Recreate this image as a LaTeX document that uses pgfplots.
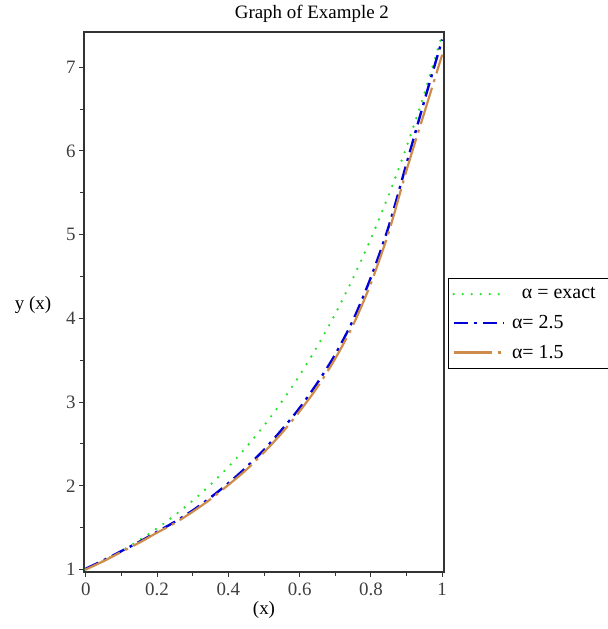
\documentclass[border=0pt]{standalone}
\usepackage{pgfplots}
\pgfplotsset{compat=1.18}
\usepackage{fontspec}
\setmainfont{Liberation Serif}

\definecolor{exgreen}{RGB}{40,225,40}
\definecolor{exblue}{RGB}{0,0,215}
\definecolor{exorange}{RGB}{205,140,75}

\begin{document}
\begin{tikzpicture}
\begin{axis}[
    scale only axis,
    width=360bp, height=540bp,
    xmin=-0.005, xmax=1.005,
    ymin=0.97, ymax=7.42,
    axis line style={line width=1.1pt, black!80},
    tick pos=left,
    tick align=outside,
    xtick={0,0.2,0.4,0.6,0.8,1},
    ytick={1,2,3,4,5,6,7},
    minor x tick num=1,
    minor y tick num=1,
    major tick length=5bp,
    minor tick length=4bp,
    tick style={line width=1pt, black!80},
    /pgf/number format/assume math mode=true,
    ticklabel style={font=\fontsize{19}{22}\selectfont, text=black!75},
    xticklabel style={yshift=-2bp},
    title={Graph of Example 2},
    title style={at={(rel axis cs:0.633,1)}, anchor=south, yshift=1bp, inner sep=2bp,
                 font=\fontsize{19}{22}\selectfont},
    xlabel={(x)},
    xlabel style={font=\fontsize{19}{22}\selectfont, yshift=1bp},
    ylabel={y (x)},
    ylabel style={font=\fontsize{19}{22}\selectfont, rotate=-90,
                  at={(rel axis cs:0,0.495)}, anchor=center, xshift=-51bp},
    legend style={at={(rel axis cs:1.011,0.544)}, anchor=north west,
                  draw=black, line width=1pt, inner xsep=4bp, inner ysep=7bp,
                  row sep=11bp,
                  font=\fontsize{20}{22}\selectfont},
    legend cell align=left,
    legend image code/.code={\draw[#1] (0bp,0bp) -- (50bp,0bp);},
    clip=false,
]
\coordinate (bl) at (rel axis cs:0,0);
\coordinate (tr) at (rel axis cs:1,1);

% exact solution
\addplot[exgreen, line width=2.6bp, dash pattern=on 0bp off 9bp, line cap=round, smooth] coordinates {
  (0.00,1.000) (0.05,1.105) (0.10,1.221) (0.15,1.350) (0.20,1.492)
  (0.25,1.649) (0.30,1.822) (0.35,2.014) (0.40,2.226) (0.45,2.460)
  (0.50,2.718) (0.55,3.004) (0.60,3.320) (0.65,3.669) (0.70,4.055)
  (0.75,4.482) (0.80,4.953) (0.85,5.474) (0.90,6.050) (0.95,6.686)
  (1.00,7.389)
};
\addlegendentry{\ \ \ α = exact\rule{20bp}{0bp}}

% alpha = 2.5
\addplot[exblue, line width=2.4bp, dash pattern=on 14bp off 6bp on 3bp off 6bp, smooth] coordinates {
  (0.00,1.010) (0.05,1.110) (0.10,1.220) (0.15,1.330) (0.20,1.450)
  (0.25,1.570) (0.30,1.705) (0.35,1.860) (0.40,2.030) (0.45,2.220)
  (0.50,2.430) (0.55,2.670) (0.60,2.930) (0.65,3.230) (0.70,3.570)
  (0.75,3.980) (0.80,4.490) (0.85,5.100) (0.90,5.850) (0.95,6.600)
  (1.00,7.330)
};
\addlegendentry{\ α= 2.5}

% alpha = 1.5
\addplot[exorange, line width=2.2bp, dash pattern=on 38bp off 6bp on 3bp off 6bp, smooth] coordinates {
  (0.00,1.000) (0.05,1.100) (0.10,1.210) (0.15,1.320) (0.20,1.440)
  (0.25,1.555) (0.30,1.690) (0.35,1.840) (0.40,2.010) (0.45,2.190)
  (0.50,2.400) (0.55,2.630) (0.60,2.890) (0.65,3.180) (0.70,3.520)
  (0.75,3.920) (0.80,4.420) (0.85,5.030) (0.90,5.770) (0.95,6.460)
  (1.00,7.150)
};
\addlegendentry{\ α= 1.5}
\end{axis}
\pgfresetboundingbox
\path[use as bounding box] ([xshift=-84bp,yshift=-57bp]bl) rectangle ([xshift=164bp,yshift=32bp]tr);
\end{tikzpicture}
\end{document}
